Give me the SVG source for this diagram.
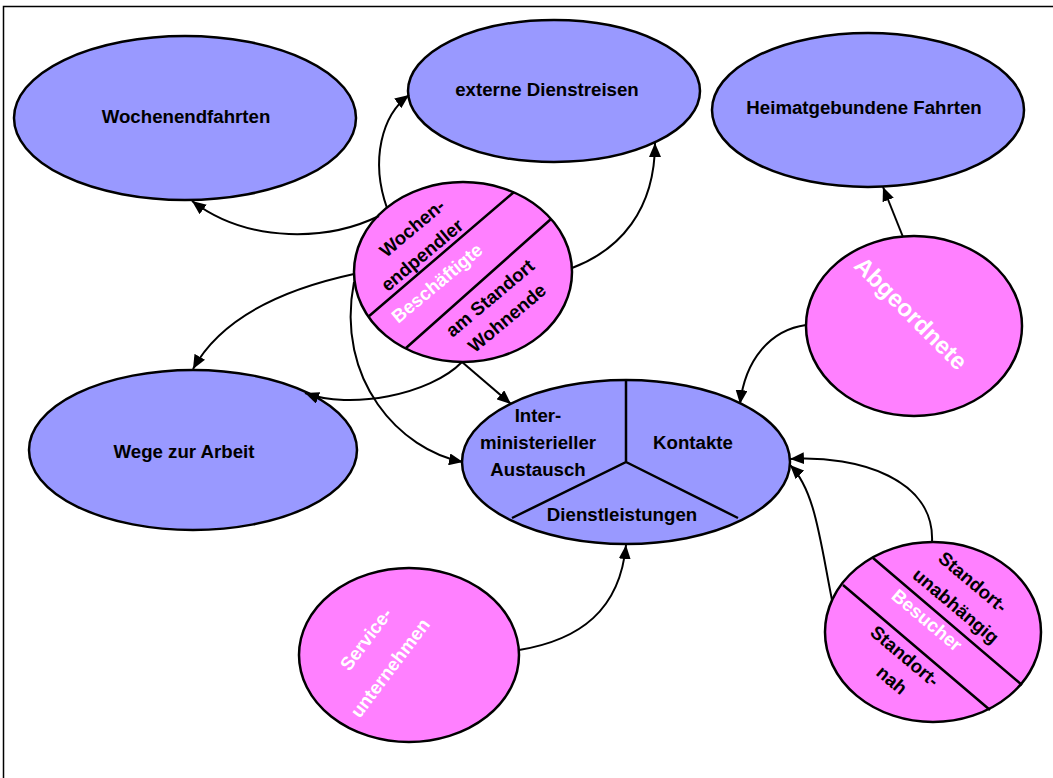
<svg xmlns="http://www.w3.org/2000/svg" width="1053" height="778" viewBox="0 0 1053 778">
  <style>
    .frame { fill: none; stroke: #000; stroke-width: 1.5; }
    .goal { fill: #9999ff; stroke: #000; stroke-width: 2.5; }
    .actor { fill: #ff80ff; stroke: #000; stroke-width: 2.5; }
    .div { stroke: #000; stroke-width: 2.5; fill: none; }
    .link { fill: none; stroke: #000; stroke-width: 2; marker-end: url(#arrow); }
    text { font-family: "Liberation Sans", Arial, sans-serif; font-weight: bold; font-size: 18.67px; text-anchor: middle; }
    .dark { fill: #000; }
    .light { fill: #fff; }
  </style>
  <defs>
    <marker id="arrow" markerWidth="14" markerHeight="12" refX="14" refY="6" orient="auto" markerUnits="userSpaceOnUse">
      <path d="M0,0 L14,6 L0,12 Z" fill="#000"/>
    </marker>
  </defs>

  <rect class="frame" x="3.5" y="6.5" width="1070" height="800"/>

  <!-- target trips -->
  <g id="wochenendfahrten">
    <ellipse class="goal" cx="185" cy="118" rx="171" ry="82"/>
    <text class="dark" x="186" y="123">Wochenendfahrten</text>
  </g>
  <g id="externe-dienstreisen">
    <ellipse class="goal" cx="554" cy="91" rx="146" ry="71"/>
    <text class="dark" x="547" y="96">externe Dienstreisen</text>
  </g>
  <g id="heimatgebundene-fahrten">
    <ellipse class="goal" cx="868" cy="110" rx="156" ry="77"/>
    <text class="dark" x="864" y="114">Heimatgebundene Fahrten</text>
  </g>
  <g id="wege-zur-arbeit">
    <ellipse class="goal" cx="193" cy="450" rx="164" ry="80"/>
    <text class="dark" x="184" y="458">Wege zur Arbeit</text>
  </g>

  <!-- central node with three sectors -->
  <g id="zentrum">
    <ellipse class="goal" cx="626" cy="462" rx="164" ry="82"/>
    <path class="div" d="M 626 380 L 626 462 L 512 518 M 626 462 L 738 518"/>
    <text class="dark" x="538" y="422">Inter-</text>
    <text class="dark" x="538" y="449">ministerieller</text>
    <text class="dark" x="538" y="476">Austausch</text>
    <text class="dark" x="693" y="449">Kontakte</text>
    <text class="dark" x="622" y="521">Dienstleistungen</text>
  </g>

  <!-- actors -->
  <g id="beschaeftigte">
    <ellipse class="actor" cx="463" cy="272" rx="109" ry="90"/>
    <path class="div" d="M 514 192 L 368 317 M 551 219 L 406 348"/>
    <g transform="translate(412,228) rotate(-40)"><text class="dark" y="6.5">Wochen-</text></g>
    <g transform="translate(422,255) rotate(-40)"><text class="dark" y="6.5">endpendler</text></g>
    <g transform="translate(437,283) rotate(-40)"><text class="light" y="6.5">Beschäftigte</text></g>
    <g transform="translate(490,298) rotate(-40)"><text class="dark" y="6.5">am Standort</text></g>
    <g transform="translate(507,318) rotate(-40)"><text class="dark" y="6.5">Wohnende</text></g>
  </g>

  <g id="abgeordnete">
    <ellipse class="actor" cx="914" cy="326" rx="108" ry="90"/>
    <g transform="translate(911,313) rotate(45)"><text class="light" y="8.5" style="font-size:24px">Abgeordnete</text></g>
  </g>

  <g id="besucher">
    <ellipse class="actor" cx="933" cy="632" rx="108" ry="90"/>
    <path class="div" d="M 873 558 L 1022 685 M 843 585 L 990 710"/>
    <g transform="translate(973,582) rotate(40)"><text class="dark" y="6.5">Standort-</text></g>
    <g transform="translate(956,606) rotate(40)"><text class="dark" y="6.5">unabhängig</text></g>
    <g transform="translate(927,620) rotate(40)"><text class="light" y="6.5">Besucher</text></g>
    <g transform="translate(905,656) rotate(40)"><text class="dark" y="6.5">Standort-</text></g>
    <g transform="translate(892,680) rotate(40)"><text class="dark" y="6.5">nah</text></g>
  </g>

  <g id="serviceunternehmen">
    <ellipse class="actor" cx="409" cy="655" rx="110" ry="87"/>
    <g transform="translate(366,639) rotate(-53)"><text class="light" y="6.5">Service-</text></g>
    <g transform="translate(390,668) rotate(-53)"><text class="light" y="6.5">unternehmen</text></g>
  </g>

  <!-- connectors -->
  <g id="connectors">
    <path class="link" d="M 379 216 C 330 240, 250 245, 192 201"/>
    <path class="link" d="M 387 208 C 370 160, 382 115, 409 95"/>
    <path class="link" d="M 572 268 C 620 250, 655 210, 655 143"/>
    <path class="link" d="M 354 274 C 280 290, 220 320, 193 369"/>
    <path class="link" d="M 354 282 C 335 380, 400 450, 463 462"/>
    <path class="link" d="M 462 362 C 430 395, 350 410, 305 393"/>
    <path class="link" d="M 462 362 L 511 404"/>
    <path class="link" d="M 806 325 C 770 330, 745 360, 740 404"/>
    <path class="link" d="M 903 237 L 883 187"/>
    <path class="link" d="M 932 542 C 935 480, 860 455, 790 459"/>
    <path class="link" d="M 832 600 C 820 540, 815 490, 790 465"/>
    <path class="link" d="M 519 650 C 580 640, 620 610, 626 545"/>
  </g>
</svg>
